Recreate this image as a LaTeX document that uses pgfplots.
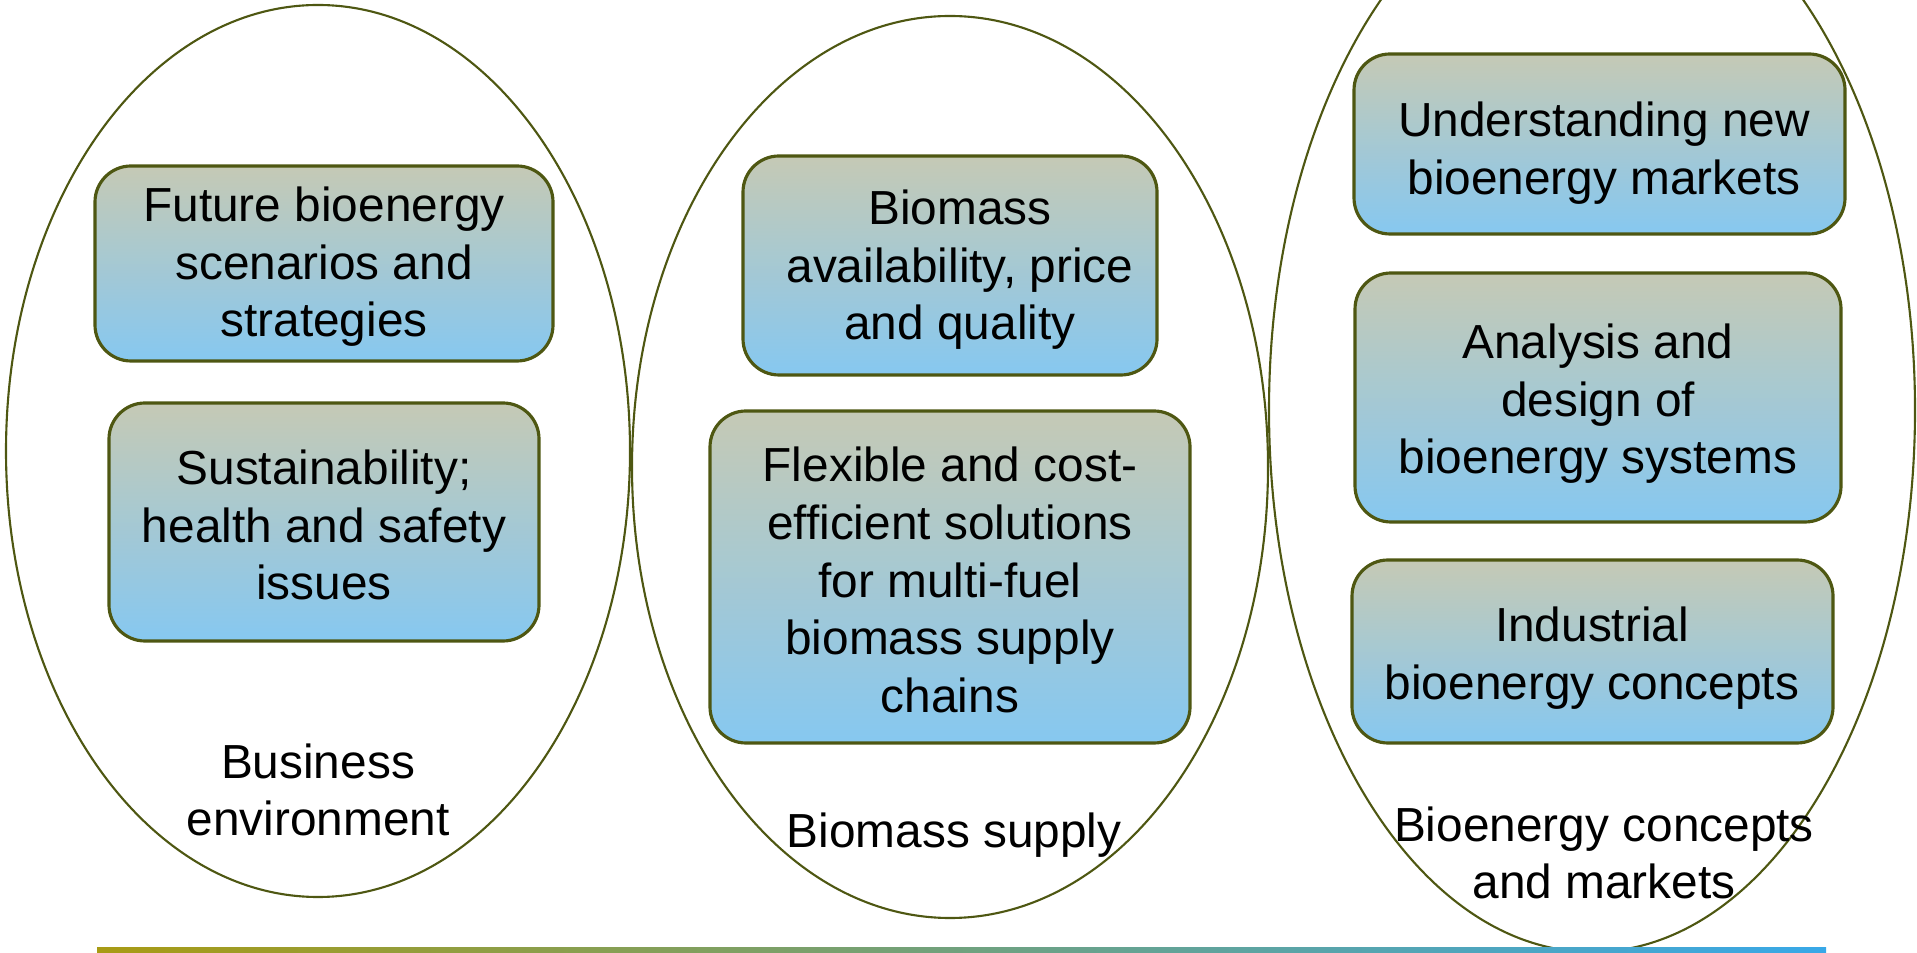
\documentclass[border=0pt]{standalone}
\usepackage{fontspec}
\setmainfont{Liberation Sans}
\usepackage{pgfplots}
\pgfplotsset{compat=1.18}

\definecolor{rim}{HTML}{4E5712}
\definecolor{boxtop}{HTML}{C5C9B5}
\definecolor{boxbot}{HTML}{86C8F0}
\definecolor{barleft}{HTML}{A89B14}
\definecolor{barright}{HTML}{38A8E8}

\begin{document}
\begin{tikzpicture}[
  topic/.style={draw=rim, line width=0.9pt, rounded corners=3.6mm,
    top color=boxtop, bottom color=boxbot},
  txt/.style={align=center, font=\fontsize{13.6}{16.4}\selectfont, inner sep=0pt}]
\begin{axis}[
  scale only axis,
  width=19.17cm, height=9.53cm,
  xmin=0, xmax=1917, ymin=0, ymax=953,
  y dir=reverse,
  hide axis,
  clip=true]

% groups (centre x, centre y, radius x, radius y)
\draw[rim, line width=0.6pt] (axis cs:318,451) ellipse [x radius=312, y radius=446];
\draw[rim, line width=0.6pt] (axis cs:950,467) ellipse [x radius=318, y radius=451];
\draw[rim, line width=0.6pt] (axis cs:1592,410) ellipse [x radius=323, y radius=542];

% topic boxes
\draw[topic] (axis cs:95,166)   rectangle (axis cs:553,361);
\draw[topic] (axis cs:109,403)  rectangle (axis cs:539,641);
\draw[topic] (axis cs:743,156)  rectangle (axis cs:1157,375);
\draw[topic] (axis cs:710,411)  rectangle (axis cs:1190,743);
\draw[topic] (axis cs:1354,54)  rectangle (axis cs:1845,234);
\draw[topic] (axis cs:1355,273) rectangle (axis cs:1841,522);
\draw[topic] (axis cs:1352,560) rectangle (axis cs:1833,743);

\node[txt] at (axis cs:324,267) {Future bioenergy\\scenarios and\\strategies};
\node[txt] at (axis cs:324,525) {Sustainability;\\health and safety\\issues};
\node[txt] at (axis cs:960,270) {Biomass\\availability, price\\and quality};
\node[txt] at (axis cs:950,580) {Flexible and cost-\\efficient solutions\\for multi-fuel\\biomass supply\\chains};
\node[txt] at (axis cs:1604,153) {Understanding new\\bioenergy markets};
\node[txt] at (axis cs:1598,404) {Analysis and\\design of\\bioenergy systems};
\node[txt] at (axis cs:1592,658) {Industrial\\bioenergy concepts};

% group names
\node[txt] at (axis cs:318,790) {Business\\environment};
\node[txt] at (axis cs:954,835) {Biomass supply};
\node[txt] at (axis cs:1604,853) {Bioenergy concepts\\and markets};

% bottom rule
\fill[left color=barleft, right color=barright] (axis cs:97,947) rectangle (axis cs:1826,953);
\end{axis}
\pgfresetboundingbox
\path (current axis.south west) rectangle (current axis.north east);
\end{tikzpicture}
\end{document}
